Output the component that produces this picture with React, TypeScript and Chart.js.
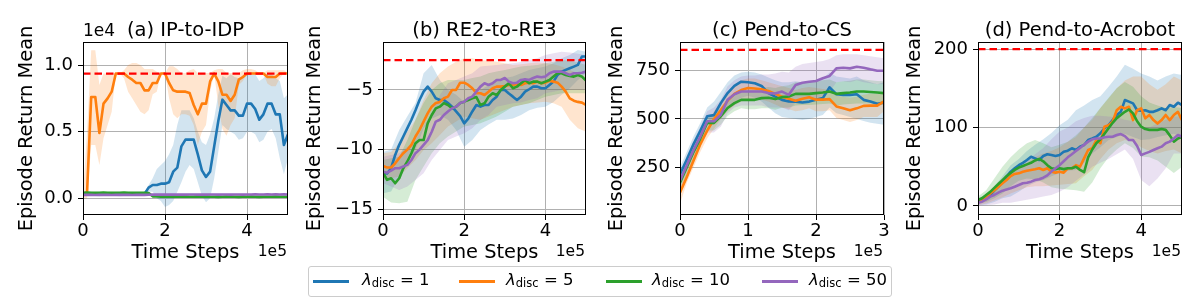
import React, { useEffect, useRef } from "react";
import { Chart, registerables } from "chart.js";

Chart.register(...registerables);
Chart.defaults.font.family = "'DejaVu Sans'";
Chart.defaults.color = "#000";

const FONT = "'DejaVu Sans'";
const COLORS = ["#1f77b4", "#ff7f0e", "#2ca02c", "#9467bd"];
const BAND_COLORS = [
  "rgba(31,119,180,0.2)",
  "rgba(255,127,14,0.2)",
  "rgba(44,160,44,0.2)",
  "rgba(148,103,189,0.2)",
];
const LAMBDAS = [1, 5, 10, 50];

// time steps, in units of 1e4
const STEP_UNIT = 1e4;
const STEPS_50 = [0, 1, 2, 3, 4, 5, 6, 7, 8, 9, 10, 11, 12, 13, 14, 15, 16, 17, 18, 19, 20, 21, 22, 23, 24, 25, 26, 27, 28, 29, 30, 31, 32, 33, 34, 35, 36, 37, 38, 39, 40, 41, 42, 43, 44, 45, 46, 47, 48, 49, 50];
const STEPS_EVEN = [0, 2, 4, 6, 8, 10, 12, 14, 16, 18, 20, 22, 24, 26, 28, 30, 32, 34, 36, 38, 40, 42, 44, 46, 48, 50];
const STEPS_30 = [0, 1, 2, 3, 4, 5, 6, 7, 8, 9, 10, 11, 12, 13, 14, 15, 16, 17, 18, 19, 20, 21, 22, 23, 24, 25, 26, 27, 28, 29, 30];

const TITLES = ["(a) IP-to-IDP", "(b) RE2-to-RE3", "(c) Pend-to-CS", "(d) Pend-to-Acrobot"];
const TARGETS = [9360, -2.5, 858, 200];
const X_MAX = [500000, 500000, 300000, 500000];
const X_TICKS_5 = [0, 200000, 400000];
const X_TICKS_3 = [0, 100000, 200000, 300000];
const Y_TICKS_A = [0, 5000, 10000];
const Y_TICKS_B = [-15, -10, -5];
const Y_TICKS_C = [250, 500, 750];
const Y_TICKS_D = [0, 100, 200];

// ---------- (a) IP-to-IDP ----------
const A_BLUE = [300, 300, 350, 300, 280, 300, 320, 300, 300, 280, 300, 300, 320, 300, 300, 320, 800, 1000, 1000, 1100, 1100, 1200, 2000, 2300, 3900, 4400, 4400, 4400, 3300, 2100, 1600, 2000, 3900, 5800, 7400, 7000, 6600, 6600, 6200, 6200, 7100, 7100, 6700, 5900, 6300, 7100, 7100, 6300, 6300, 4000, 4800];
const A_BLUE_HI = [450, 450, 500, 450, 430, 450, 470, 450, 450, 430, 450, 450, 470, 450, 450, 470, 1000, 1500, 2200, 2500, 2800, 3300, 4000, 5500, 6600, 6600, 6600, 6000, 5000, 4200, 4000, 4800, 6000, 7800, 9200, 9000, 9300, 9100, 9000, 9200, 9400, 9300, 9300, 8800, 9000, 9400, 9300, 9000, 8800, 7500, 7800];
const A_BLUE_LO = [180, 180, 220, 180, 160, 180, 200, 180, 180, 160, 180, 180, 200, 180, 180, 200, 500, 500, 0, -200, -650, -500, -200, 500, 1200, 2000, 2500, 2200, 1200, 200, -300, 0, 1500, 3500, 5500, 5200, 5000, 4800, 4400, 4500, 5000, 5000, 4800, 4200, 4400, 5000, 5200, 4500, 3000, 1800, 3000];
const A_ORANGE = [200, 500, 7600, 7600, 4900, 7100, 7500, 8000, 9360, 9360, 9360, 9100, 8900, 8650, 8650, 8100, 8100, 8650, 8650, 9360, 9360, 8650, 8100, 8000, 8000, 8000, 7900, 7000, 6300, 7100, 7100, 8770, 9360, 8770, 7770, 7770, 7300, 7770, 8900, 9100, 9360, 9360, 9360, 9360, 9360, 9100, 9100, 9100, 9360, 9360, 9360];
const A_ORANGE_HI = [300, 5000, 11100, 11100, 8500, 9360, 9360, 9360, 9360, 9360, 9600, 10000, 10150, 10150, 10000, 9700, 9700, 9700, 9500, 9360, 9360, 9900, 9900, 9700, 9400, 9400, 9600, 9700, 9400, 9400, 9400, 9400, 9600, 9700, 9700, 9400, 9400, 9400, 9400, 9600, 9700, 9700, 9600, 9400, 9400, 9600, 9600, 9600, 9600, 9600, 9400];
const A_ORANGE_LO = [0, 0, 4000, 4000, 2500, 4500, 5500, 6500, 9360, 9360, 9000, 8000, 7500, 7000, 6500, 6300, 6600, 7800, 8000, 9360, 9360, 7500, 6300, 6000, 6300, 6300, 6200, 5500, 4000, 5000, 5500, 8000, 9360, 7000, 5200, 4700, 5500, 6000, 8500, 8800, 9360, 9360, 9360, 9360, 9360, 8600, 8400, 8400, 9000, 9360, 9360];
const A_GREEN = [420, 430, 420, 410, 420, 430, 420, 410, 420, 420, 430, 420, 410, 420, 420, 410, 400, 150, 140, 130, 140, 130, 120, 130, 140, 130, 120, 120, 130, 120, 130, 120, 120, 110, 120, 130, 120, 120, 110, 120, 120, 130, 120, 110, 120, 120, 120, 130, 120, 120, 120];
const A_GREEN_HI = [500, 510, 500, 490, 500, 510, 500, 490, 500, 500, 510, 500, 490, 500, 500, 490, 470, 220, 200, 190, 200, 190, 180, 190, 200, 190, 180, 180, 190, 180, 190, 180, 180, 170, 180, 190, 180, 180, 170, 180, 180, 190, 180, 170, 180, 180, 180, 190, 180, 180, 180];
const A_GREEN_LO = [340, 350, 340, 330, 340, 350, 340, 330, 340, 340, 350, 340, 330, 340, 340, 330, 320, 80, 70, 60, 70, 60, 50, 60, 70, 60, 50, 50, 60, 50, 60, 50, 50, 40, 50, 60, 50, 50, 40, 50, 50, 60, 50, 40, 50, 50, 50, 60, 50, 50, 50];
const A_PURPLE = [260, 270, 260, 250, 260, 270, 260, 250, 260, 270, 260, 260, 250, 260, 270, 260, 270, 280, 280, 290, 280, 280, 290, 280, 290, 280, 290, 290, 280, 290, 280, 290, 290, 280, 290, 290, 280, 290, 290, 280, 290, 290, 300, 290, 290, 300, 290, 300, 290, 300, 290];
const A_PURPLE_HI = [320, 330, 320, 310, 320, 330, 320, 310, 320, 330, 320, 320, 310, 320, 330, 320, 330, 340, 340, 350, 340, 340, 350, 340, 350, 340, 350, 350, 340, 350, 340, 350, 350, 340, 350, 350, 340, 350, 350, 340, 350, 350, 360, 350, 350, 360, 350, 360, 350, 360, 350];
const A_PURPLE_LO = [200, 210, 200, 190, 200, 210, 200, 190, 200, 210, 200, 200, 190, 200, 210, 200, 210, 220, 220, 230, 220, 220, 230, 220, 230, 220, 230, 230, 220, 230, 220, 230, 230, 220, 230, 230, 220, 230, 230, 220, 230, 230, 240, 230, 230, 240, 230, 240, 230, 240, 230];

// ---------- (b) RE2-to-RE3 ----------
const B_BLUE = [-11.98, -12.0, -11.56, -10.45, -9.6, -8.9, -8.2, -7.5, -6.7, -5.84, -5.14, -4.72, -5.14, -5.7, -5.84, -5.84, -6.1, -6.4, -6.8, -7.2, -7.8, -7.4, -6.8, -6.26, -6.4, -6.26, -6.26, -5.84, -5.56, -5.0, -5.0, -5.3, -5.56, -5.84, -5.56, -5.14, -4.94, -4.72, -4.72, -4.86, -4.86, -4.58, -4.3, -3.74, -3.46, -3.32, -3.18, -3.04, -2.9, -2.2, -2.2];
const B_BLUE_HI = [-10.2, -10.0, -8.35, -7.2, -6.1, -3.6, -2.9, -4.16, -5.0, -5.4, -6.0, -5.4, -5.0, -4.6, -4.16, -4.0, -3.88, -3.6, -3.32, -3.18, -3.04, -2.77, -2.35, -2.07, -1.65, -1.79];
const B_BLUE_LO = [-13.66, -13.52, -12.26, -11.15, -10.03, -8.2, -7.4, -7.1, -7.5, -8.35, -9.75, -9.2, -8.35, -7.9, -7.5, -7.5, -7.4, -7.1, -6.7, -6.5, -6.4, -6.0, -5.4, -4.86, -4.16, -3.6];
const B_ORANGE = [-11.37, -11.5, -11.5, -11.15, -10.7, -10.3, -10.0, -9.6, -8.9, -8.35, -7.65, -6.96, -6.4, -6.1, -6.0, -5.7, -5.56, -5.0, -5.0, -4.39, -4.39, -4.58, -4.86, -5.28, -5.28, -5.42, -5.14, -4.86, -4.72, -4.72, -4.66, -4.58, -4.58, -4.52, -4.58, -4.44, -4.39, -4.44, -4.3, -4.44, -4.39, -4.22, -4.3, -4.39, -4.72, -5.14, -5.7, -5.9, -6.0, -6.06, -6.26];
const B_ORANGE_HI = [-10.3, -10.2, -9.47, -8.5, -7.5, -5.84, -4.44, -3.6, -3.04, -2.63, -2.35, -2.35, -2.49, -2.55, -2.63, -2.77, -2.9, -2.85, -2.77, -2.7, -2.77, -2.85, -3.04, -3.32, -3.6, -3.88];
const B_ORANGE_LO = [-12.54, -12.4, -12.26, -11.56, -10.87, -10.03, -9.47, -8.77, -8.07, -7.65, -7.23, -7.37, -7.5, -7.23, -6.96, -6.68, -6.4, -6.26, -6.12, -6.05, -5.98, -6.12, -6.4, -7.5, -8.2, -8.5];
const B_GREEN = [-11.93, -12.54, -12.4, -12.82, -12.4, -11.56, -11.0, -10.3, -9.47, -9.2, -9.2, -7.8, -7.1, -6.54, -6.4, -6.1, -6.26, -6.54, -6.4, -6.1, -5.98, -5.84, -5.7, -5.6, -6.26, -6.12, -5.56, -5.28, -5.42, -5.0, -4.72, -4.44, -4.86, -4.72, -4.44, -4.16, -4.44, -4.3, -4.3, -4.44, -4.3, -4.16, -3.88, -3.6, -3.6, -3.74, -3.82, -3.88, -3.74, -3.88, -4.22];
const B_GREEN_HI = [-10.87, -10.73, -10.59, -9.19, -7.5, -6.1, -5.0, -4.44, -4.16, -4.16, -4.16, -4.0, -3.88, -3.6, -3.46, -3.32, -3.18, -3.04, -2.97, -2.9, -2.77, -2.63, -2.49, -2.55, -2.7, -2.9];
const B_GREEN_LO = [-13.94, -14.44, -14.5, -14.36, -12.54, -11.42, -10.31, -9.47, -8.91, -8.49, -8.07, -7.93, -7.79, -7.51, -7.23, -6.82, -6.4, -6.26, -6.12, -5.84, -5.56, -5.42, -5.28, -5.28, -5.28, -5.28];
const B_PURPLE = [-11.85, -11.93, -11.76, -11.56, -11.56, -11.42, -11.28, -10.87, -10.3, -10.0, -9.6, -9.2, -8.5, -7.65, -7.5, -7.1, -6.8, -6.54, -6.4, -6.1, -5.98, -5.7, -5.56, -5.14, -4.72, -4.44, -4.58, -4.44, -4.16, -4.16, -4.0, -4.3, -4.44, -4.39, -4.16, -4.1, -4.16, -4.0, -3.88, -3.94, -3.88, -3.6, -3.46, -3.46, -3.46, -3.6, -3.74, -3.6, -3.6, -3.55, -3.46];
const B_PURPLE_HI = [-10.59, -10.45, -10.31, -9.75, -9.19, -8.07, -6.96, -5.42, -4.44, -4.16, -3.88, -3.6, -3.04, -2.97, -2.9, -2.83, -2.77, -2.66, -2.49, -2.35, -2.07, -1.93, -1.79, -1.86, -1.97, -2.07];
const B_PURPLE_LO = [-12.82, -13.1, -13.38, -13.1, -12.54, -11.98, -10.87, -10.03, -9.19, -8.91, -8.63, -8.2, -7.51, -7.1, -6.4, -6.26, -6.12, -6.05, -5.84, -5.7, -5.28, -5.14, -5.0, -5.0, -5.0, -5.0];

// ---------- (c) Pend-to-CS ----------
const C_BLUE = [214, 290, 370, 440, 514, 520, 582, 634, 671, 693, 690, 685, 671, 634, 616, 599, 591, 590, 585, 590, 599, 608, 664, 628, 625, 625, 628, 599, 591, 579, 585];
const C_BLUE_HI = [250, 330, 410, 480, 560, 590, 640, 690, 725, 740, 745, 740, 730, 715, 700, 690, 690, 695, 690, 690, 700, 710, 740, 720, 715, 710, 720, 700, 690, 680, 690];
const C_BLUE_LO = [175, 250, 330, 400, 470, 470, 510, 550, 580, 610, 620, 610, 590, 560, 530, 510, 505, 500, 495, 500, 510, 520, 560, 530, 520, 510, 500, 490, 480, 475, 470];
const C_ORANGE = [120, 200, 285, 370, 440, 500, 545, 595, 630, 650, 660, 658, 654, 645, 630, 615, 605, 595, 605, 612, 600, 600, 603, 565, 555, 545, 555, 568, 569, 569, 591];
const C_ORANGE_HI = [150, 240, 330, 410, 480, 540, 590, 640, 680, 700, 710, 710, 700, 690, 680, 670, 660, 650, 660, 665, 660, 655, 650, 620, 615, 610, 615, 625, 630, 630, 640];
const C_ORANGE_LO = [60, 170, 250, 330, 400, 450, 500, 540, 570, 590, 600, 600, 600, 590, 575, 560, 550, 540, 545, 555, 540, 540, 545, 505, 495, 485, 495, 510, 510, 510, 540];
const C_GREEN = [170, 250, 330, 400, 480, 480, 514, 557, 582, 599, 599, 599, 608, 610, 603, 613, 616, 630, 630, 630, 634, 637, 642, 630, 634, 637, 642, 642, 640, 637, 634];
const C_GREEN_HI = [210, 290, 370, 440, 520, 525, 560, 600, 625, 645, 650, 650, 660, 665, 660, 670, 675, 690, 690, 690, 695, 700, 705, 690, 695, 698, 705, 705, 700, 697, 695];
const C_GREEN_LO = [135, 210, 290, 360, 440, 440, 470, 515, 540, 555, 550, 550, 555, 555, 548, 558, 560, 570, 572, 572, 575, 577, 580, 570, 575, 578, 580, 580, 580, 578, 575];
const C_PURPLE = [180, 260, 340, 410, 488, 488, 522, 599, 628, 642, 642, 642, 642, 634, 632, 642, 625, 676, 688, 693, 697, 711, 723, 762, 765, 762, 770, 765, 757, 750, 750];
const C_PURPLE_HI = [220, 310, 390, 460, 540, 560, 600, 670, 700, 720, 725, 725, 730, 730, 735, 745, 740, 770, 785, 790, 795, 800, 810, 830, 835, 835, 835, 830, 825, 820, 815];
const C_PURPLE_LO = [140, 215, 290, 360, 430, 430, 460, 530, 560, 570, 570, 570, 570, 560, 560, 560, 545, 585, 595, 600, 605, 620, 640, 690, 695, 690, 700, 690, 685, 680, 680];

// ---------- (d) Pend-to-Acrobot ----------
const D_BLUE = [5.5, 6.8, 9.8, 14, 19.5, 24.6, 31, 37.4, 43.7, 48, 52, 55, 58.6, 62.8, 60.7, 58.6, 63.7, 66, 65, 63.7, 65, 69, 70.5, 73.5, 71.3, 75.6, 77.7, 84, 86, 88.3, 92.6, 99, 103, 109.5, 116, 120, 135, 133, 130.8, 122, 121.4, 122, 120, 120, 122, 124.4, 122, 128.7, 126.5, 131.6, 128.7];
const D_BLUE_HI = [10, 15, 25, 38, 52, 60, 70, 78, 85, 93, 103, 110, 122, 128, 135, 140, 152, 165, 180, 175, 169, 165, 160, 165, 169, 167];
const D_BLUE_LO = [1, 2, 5, 10, 12, 18, 25, 30, 33, 38, 42, 45, 46, 55, 67, 75, 84, 88, 92, 88, 84, 85, 88, 90, 92, 88];
const D_ORANGE = [4.7, 7.6, 11.9, 16, 20, 24.6, 28.9, 33, 38, 40.8, 41.6, 43.7, 45, 45.9, 46.7, 48, 45.9, 48, 43.7, 42.5, 43.7, 42.5, 48, 48, 52, 50, 60.7, 71.3, 73.5, 84, 80, 101, 103, 107.4, 122, 126.5, 124.4, 126.5, 109.5, 122, 124.4, 111.7, 116, 109.5, 105, 109.5, 116, 109.5, 116, 120, 109.5];
const D_ORANGE_HI = [8, 14, 24, 32, 42, 50, 55, 62, 67, 70, 75, 82, 88, 100, 110, 125, 137, 150, 160, 165, 165, 155, 148, 155, 165, 160];
const D_ORANGE_LO = [1, 3, 7, 11, 16, 20, 24, 25, 25, 26, 27, 28, 29, 38, 46, 60, 72, 80, 84, 82, 75, 70, 67, 70, 72, 67];
const D_GREEN = [7.6, 9.8, 14, 18, 23, 28, 33, 38, 42, 46, 49, 51, 53, 55, 58, 60, 57, 52, 48, 47, 48, 47, 48, 48, 50, 46, 43, 62, 72, 80, 85, 92, 99, 106, 112, 116, 120, 123, 118, 108, 101, 98, 97, 97, 97, 98, 97, 90, 82, 86, 88];
const D_GREEN_HI = [12, 20, 35, 50, 62, 72, 80, 84, 80, 75, 78, 82, 90, 100, 112, 125, 138, 150, 158, 152, 140, 132, 128, 125, 126, 125];
const D_GREEN_LO = [3, 5, 10, 16, 25, 32, 35, 34, 30, 24, 22, 21, 20, 18, 30, 48, 62, 72, 80, 74, 63, 62, 58, 50, 42, 50];
const D_PURPLE = [4.2, 5.5, 8.5, 11.9, 14, 17, 19.5, 21, 22.5, 24.6, 26.8, 28.9, 29.5, 31, 33, 34, 36, 39, 44, 48, 52, 57, 62, 66, 70, 74, 78, 82, 85, 86, 86, 87.5, 88.3, 88.3, 90.4, 91.7, 89, 84, 84, 76.4, 65, 67, 69, 71.3, 73.5, 75.6, 80, 82, 86, 90.4, 88.3];
const D_PURPLE_HI = [8, 15, 23, 32, 42, 50, 58, 66, 74, 85, 95, 100, 108, 112, 115, 115, 114, 113, 110, 108, 101, 100, 105, 110, 114, 114];
const D_PURPLE_LO = [0, 1, 2, 4, 4, 6, 8, 10, 12, 14, 18, 24, 32, 40, 50, 55, 60, 66, 72, 60, 33, 25, 35, 48, 67, 67];

type Series = { steps: number[]; mean: number[]; bandSteps: number[]; lo: number[]; hi: number[] };
type PanelCfg = {
  title: string;
  series: Series[];
  target: number;
  xMax: number;
  xTicks: number[];
  yTicks: number[];
  yFmt: (v: number) => string;
  yOffsetText: string | null;
  yMin: number;
  yMax: number;
  canvasLeft: number;
  plotLeft: number;
  plotRight: number;
  yTitleCenter: number;
};

const minusFmt = (v: number) => (v < 0 ? "\u2212" + Math.abs(v) : String(v));

const PANELS: PanelCfg[] = [
  {
    title: TITLES[0],
    series: [
      { steps: STEPS_50, mean: A_BLUE, bandSteps: STEPS_50, lo: A_BLUE_LO, hi: A_BLUE_HI },
      { steps: STEPS_50, mean: A_ORANGE, bandSteps: STEPS_50, lo: A_ORANGE_LO, hi: A_ORANGE_HI },
      { steps: STEPS_50, mean: A_GREEN, bandSteps: STEPS_50, lo: A_GREEN_LO, hi: A_GREEN_HI },
      { steps: STEPS_50, mean: A_PURPLE, bandSteps: STEPS_50, lo: A_PURPLE_LO, hi: A_PURPLE_HI },
    ],
    target: TARGETS[0],
    xMax: X_MAX[0],
    xTicks: X_TICKS_5,
    yTicks: Y_TICKS_A,
    yFmt: (v) => (v / 1e4).toFixed(1),
    yOffsetText: "1e4",
    yMin: -1250,
    yMax: 11725,
    canvasLeft: 0,
    plotLeft: 83,
    plotRight: 288,
    yTitleCenter: 26.6,
  },
  {
    title: TITLES[1],
    series: [
      { steps: STEPS_50, mean: B_BLUE, bandSteps: STEPS_EVEN, lo: B_BLUE_LO, hi: B_BLUE_HI },
      { steps: STEPS_50, mean: B_ORANGE, bandSteps: STEPS_EVEN, lo: B_ORANGE_LO, hi: B_ORANGE_HI },
      { steps: STEPS_50, mean: B_GREEN, bandSteps: STEPS_EVEN, lo: B_GREEN_LO, hi: B_GREEN_HI },
      { steps: STEPS_50, mean: B_PURPLE, bandSteps: STEPS_EVEN, lo: B_PURPLE_LO, hi: B_PURPLE_HI },
    ],
    target: TARGETS[1],
    xMax: X_MAX[1],
    xTicks: X_TICKS_5,
    yTicks: Y_TICKS_B,
    yFmt: minusFmt,
    yOffsetText: null,
    yMin: -15.48,
    yMax: -0.98,
    canvasLeft: 300,
    plotLeft: 383,
    plotRight: 586,
    yTitleCenter: 15,
  },
  {
    title: TITLES[2],
    series: [
      { steps: STEPS_30, mean: C_BLUE, bandSteps: STEPS_30, lo: C_BLUE_LO, hi: C_BLUE_HI },
      { steps: STEPS_30, mean: C_ORANGE, bandSteps: STEPS_30, lo: C_ORANGE_LO, hi: C_ORANGE_HI },
      { steps: STEPS_30, mean: C_GREEN, bandSteps: STEPS_30, lo: C_GREEN_LO, hi: C_GREEN_HI },
      { steps: STEPS_30, mean: C_PURPLE, bandSteps: STEPS_30, lo: C_PURPLE_LO, hi: C_PURPLE_HI },
    ],
    target: TARGETS[2],
    xMax: X_MAX[2],
    xTicks: X_TICKS_3,
    yTicks: Y_TICKS_C,
    yFmt: minusFmt,
    yOffsetText: null,
    yMin: 3,
    yMax: 898.5,
    canvasLeft: 600,
    plotLeft: 680,
    plotRight: 884,
    yTitleCenter: 16.6,
  },
  {
    title: TITLES[3],
    series: [
      { steps: STEPS_50, mean: D_BLUE, bandSteps: STEPS_EVEN, lo: D_BLUE_LO, hi: D_BLUE_HI },
      { steps: STEPS_50, mean: D_ORANGE, bandSteps: STEPS_EVEN, lo: D_ORANGE_LO, hi: D_ORANGE_HI },
      { steps: STEPS_50, mean: D_GREEN, bandSteps: STEPS_EVEN, lo: D_GREEN_LO, hi: D_GREEN_HI },
      { steps: STEPS_50, mean: D_PURPLE, bandSteps: STEPS_EVEN, lo: D_PURPLE_LO, hi: D_PURPLE_HI },
    ],
    target: TARGETS[3],
    xMax: X_MAX[3],
    xTicks: X_TICKS_5,
    yTicks: Y_TICKS_D,
    yFmt: minusFmt,
    yOffsetText: null,
    yMin: -11.5,
    yMax: 209,
    canvasLeft: 900,
    plotLeft: 978,
    plotRight: 1182,
    yTitleCenter: 15,
  },
];

const CANVAS_W = 300;
const CANVAS_H = 300;
const PLOT_TOP = 42;
const PLOT_BOTTOM = 215;
const TICK_SIZE = 18;
const LABEL_SIZE = 19.4;

function PanelChart({ cfg }: { cfg: PanelCfg }) {
  const ref = useRef<HTMLCanvasElement | null>(null);

  useEffect(() => {
    const canvas = ref.current;
    if (!canvas) return;
    const datasets: any[] = [];
    cfg.series.forEach((s, i) => {
      datasets.push({
        data: s.bandSteps.map((t, j) => ({ x: t * STEP_UNIT, y: s.lo[j] })),
        borderWidth: 0,
        borderColor: "rgba(0,0,0,0)",
        pointRadius: 0,
        fill: false,
        order: 104 - i,
      });
      datasets.push({
        data: s.bandSteps.map((t, j) => ({ x: t * STEP_UNIT, y: s.hi[j] })),
        borderWidth: 0,
        borderColor: "rgba(0,0,0,0)",
        pointRadius: 0,
        fill: "-1",
        backgroundColor: BAND_COLORS[i],
        order: 104 - i,
      });
    });
    cfg.series.forEach((s, i) => {
      datasets.push({
        data: s.steps.map((t, j) => ({ x: t * STEP_UNIT, y: s.mean[j] })),
        borderColor: COLORS[i],
        borderWidth: 2.6,
        borderJoinStyle: "round",
        pointRadius: 0,
        fill: false,
        order: 4 - i,
      });
    });
    datasets.push({
      data: [
        { x: 0, y: cfg.target },
        { x: cfg.xMax, y: cfg.target },
      ],
      borderColor: "#ff0000",
      borderWidth: 2.2,
      borderDash: [7.5, 4],
      pointRadius: 0,
      fill: false,
      order: 0,
    });

    const plotW = cfg.plotLeft - cfg.canvasLeft;
    const rightPad = CANVAS_W - (cfg.plotRight - cfg.canvasLeft);

    const deco = {
      id: "deco",
      afterDatasetsDraw(chart: any) {
        const { ctx, chartArea: a } = chart;
        ctx.save();
        ctx.strokeStyle = "#000";
        ctx.lineWidth = 1;
        ctx.strokeRect(a.left + 0.5, a.top + 0.5, a.right - a.left - 1, a.bottom - a.top - 1);
        ctx.restore();
      },
      afterDraw(chart: any) {
        const { ctx, chartArea: a } = chart;
        ctx.save();
        ctx.fillStyle = "#000";
        ctx.textBaseline = "alphabetic";
        ctx.font = `19.5px ${FONT}`;
        ctx.textAlign = "center";
        ctx.fillText(cfg.title, (a.left + a.right) / 2, 36);
        if (cfg.yOffsetText) {
          ctx.font = `17px ${FONT}`;
          ctx.textAlign = "left";
          ctx.fillText(cfg.yOffsetText, a.left, 36);
        }
        ctx.font = `15.5px ${FONT}`;
        ctx.textAlign = "right";
        ctx.fillText("1e5", a.right - 1, 256);
        ctx.restore();
      },
    };

    const chart = new Chart(canvas, {
      type: "line",
      data: { datasets },
      options: {
        animation: false,
        responsive: false,
        maintainAspectRatio: false,
        devicePixelRatio: 1,
        events: [],
        layout: { padding: { left: 0, right: rightPad, top: PLOT_TOP, bottom: 0 } },
        elements: { line: { tension: 0 } },
        plugins: {
          legend: { display: false },
          tooltip: { enabled: false },
          title: { display: false },
        },
        scales: {
          x: {
            type: "linear",
            min: 0,
            max: cfg.xMax,
            afterBuildTicks: (s: any) => {
              s.ticks = cfg.xTicks.map((v) => ({ value: v }));
            },
            afterFit: (s: any) => {
              s.height = CANVAS_H - PLOT_BOTTOM;
            },
            ticks: {
              callback: (v: any) => String(Number(v) / 1e5),
              font: { family: FONT, size: TICK_SIZE, lineHeight: 1 },
              color: "#000",
              padding: 2,
              maxRotation: 0,
              autoSkip: false,
            },
            grid: { color: "#b0b0b0", lineWidth: 1, tickLength: 5, tickColor: "#000", drawTicks: true },
            border: { display: false },
            title: {
              display: true,
              text: "Time Steps",
              color: "#000",
              font: { family: FONT, size: LABEL_SIZE, lineHeight: 1 },
              padding: { top: 0, bottom: CANVAS_H - 253.3 - LABEL_SIZE / 2 },
            },
          },
          y: {
            type: "linear",
            min: cfg.yMin,
            max: cfg.yMax,
            afterBuildTicks: (s: any) => {
              s.ticks = cfg.yTicks.map((v) => ({ value: v }));
            },
            afterFit: (s: any) => {
              s.width = plotW;
            },
            ticks: {
              callback: (v: any) => cfg.yFmt(Number(v)),
              font: { family: FONT, size: TICK_SIZE, lineHeight: 1 },
              color: "#000",
              padding: 5,
              autoSkip: false,
            },
            grid: { color: "#b0b0b0", lineWidth: 1, tickLength: 5, tickColor: "#000", drawTicks: true },
            border: { display: false },
            title: {
              display: true,
              text: "Episode Return Mean",
              color: "#000",
              font: { family: FONT, size: LABEL_SIZE, lineHeight: 1 },
              padding: { top: cfg.yTitleCenter - LABEL_SIZE / 2, bottom: 0 },
            },
          },
        },
      },
      plugins: [deco],
    } as any);

    return () => {
      chart.destroy();
    };
  }, [cfg]);

  return (
    <canvas
      ref={ref}
      width={CANVAS_W}
      height={CANVAS_H}
      style={{ position: "absolute", left: cfg.canvasLeft, top: 0, width: CANVAS_W, height: CANVAS_H }}
    />
  );
}

const HANDLE_X = [313, 459, 606, 762];
const TEXT_X = [362, 506, 652, 809];

function Legend() {
  return (
    <>
      <div
        style={{
          position: "absolute",
          left: 308,
          top: 266,
          width: 584,
          height: 31,
          border: "1px solid #cccccc",
          borderRadius: 3,
          background: "rgba(255,255,255,0.8)",
          boxSizing: "border-box",
        }}
      />
      {LAMBDAS.map((lam, i) => (
        <React.Fragment key={i}>
          <div
            style={{
              position: "absolute",
              left: HANDLE_X[i],
              top: 280.2,
              width: 36,
              height: 2.6,
              background: COLORS[i],
            }}
          />
          <div
            style={{
              position: "absolute",
              left: TEXT_X[i],
              top: 272,
              fontFamily: FONT,
              fontSize: 16.5,
              lineHeight: "16.5px",
              whiteSpace: "nowrap",
              color: "#000",
            }}
          >
            <i>λ</i>
            <span style={{ fontSize: "0.7em", position: "relative", top: 2 }}>disc</span>
            {" = " + lam}
          </div>
        </React.Fragment>
      ))}
    </>
  );
}

export default function App() {
  return (
    <div
      style={{
        position: "fixed",
        left: 0,
        top: 0,
        width: 1200,
        height: 300,
        background: "#ffffff",
        overflow: "hidden",
      }}
    >
      {PANELS.map((p, i) => (
        <PanelChart key={i} cfg={p} />
      ))}
      <Legend />
    </div>
  );
}
